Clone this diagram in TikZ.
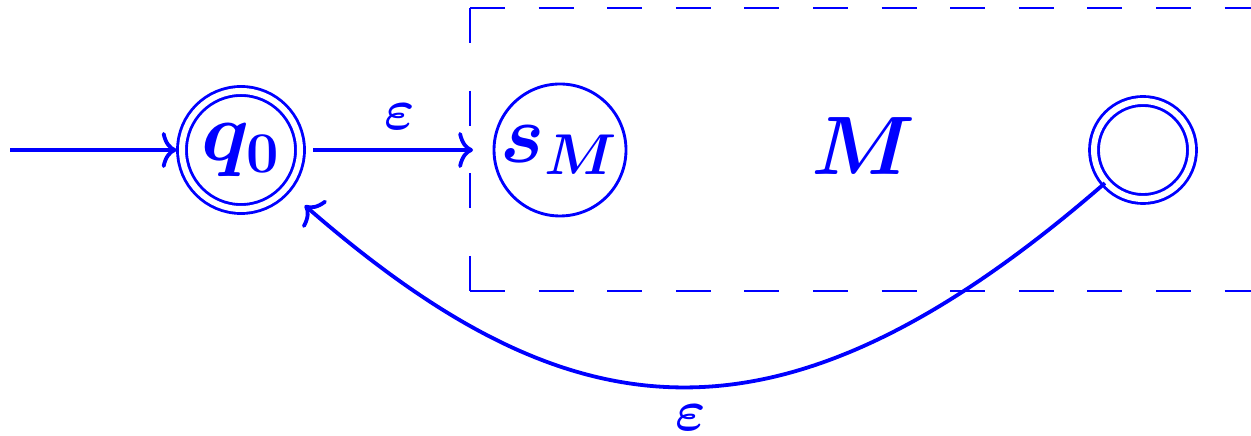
\documentclass[tikz,border=0pt]{standalone}
\usepackage{amsmath,bm}
\usetikzlibrary{arrows.meta}
\definecolor{pblue}{RGB}{0,0,255}
\begin{document}
\begin{tikzpicture}[x=0.25pt,y=-0.25pt,
  every node/.style={text=pblue},
  state/.style={circle,draw=pblue,line width=0.72pt,inner sep=0pt},
  accept/.style={state,double=white,double distance=1.5pt},
  edge/.style={draw=pblue,line width=0.95pt,-{To[length=3.7pt,width=9pt]}},
  lbl/.style={font=\fontsize{14}{16}\selectfont,inner sep=0pt},
  big/.style={font=\fontsize{20}{24}\selectfont},
  boxline/.style={draw=pblue,line width=0.72pt}]
\useasboundingbox (0,0) rectangle (1251,436);
% states
\node[accept,minimum size=118*0.25pt,big] (q0) at (241,150) {$\bm{q_0}$};
\node[state,minimum size=132*0.25pt,big] (sM) at (560,150) {$\bm{s_M}$};
\node[accept,minimum size=98*0.25pt] (acc) at (1143,150) {};
\node[big] (M) at (864,146) {$\bm{M}$};
% dashed box
\coordinate (bTL) at (470,8);
\coordinate (bBL) at (470,291);
\coordinate (bTR) at (1262,8);
\coordinate (bBR) at (1262,291);
\draw[boxline,dash pattern=on 8.75pt off 11.9pt] (bTL) -- (bBL);
\draw[boxline,dash pattern=on 8.75pt off 8.4pt] (bTL) -- (bTR);
\draw[boxline,dash pattern=on 8.75pt off 8.4pt] (bBL) -- (bBR);
\coordinate (start) at (10,150);
\coordinate (boxin) at (473,150);
% labels
\node[lbl] (e1) at (400,117) {$\bm{\varepsilon}$};
\node[lbl] (e2) at (691,418) {$\bm{\varepsilon}$};
% edges
\draw[edge,shorten >=1pt] (start) -- (q0);
\draw[edge] (q0.east) ++(12,0) coordinate (q0e) (q0e) -- (boxin);
\draw[edge,shorten >=6pt] (acc) to[out=221,in=-41,out distance=109pt,in distance=93pt] (q0);
\end{tikzpicture}
\end{document}
